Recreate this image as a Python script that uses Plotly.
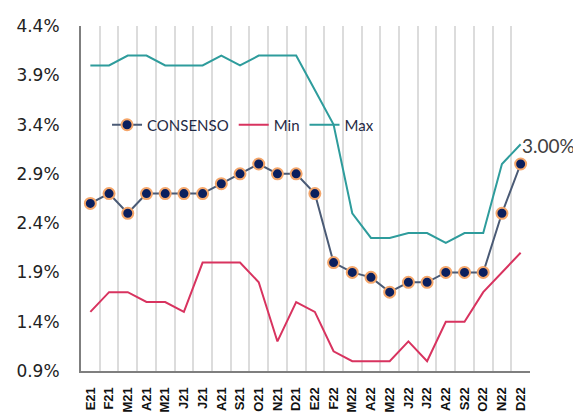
import plotly.graph_objects as go

categories = ["E21","F21","M21","A21","M21","J21","J21","A21","S21","O21","N21","D21",
              "E22","F22","M22","A22","M22","J22","J22","A22","S22","O22","N22","D22"]
consenso = [2.6,2.7,2.5,2.7,2.7,2.7,2.7,2.8,2.9,3.0,2.9,2.9,
            2.7,2.0,1.9,1.85,1.7,1.8,1.8,1.9,1.9,1.9,2.5,3.0]
minimo = [1.5,1.7,1.7,1.6,1.6,1.5,2.0,2.0,2.0,1.8,1.2,1.6,
          1.5,1.1,1.0,1.0,1.0,1.2,1.0,1.4,1.4,1.7,1.9,2.1]
maximo = [4.0,4.0,4.1,4.1,4.0,4.0,4.0,4.1,4.0,4.1,4.1,4.1,
          3.75,3.4,2.5,2.25,2.25,2.3,2.3,2.2,2.3,2.3,3.0,3.2]
yticks = [0.9,1.4,1.9,2.4,2.9,3.4,3.9,4.4]

x = list(range(len(categories)))

fig = go.Figure()
fig.add_trace(go.Scatter(x=x, y=consenso, name="CONSENSO", mode="lines+markers",
                         line=dict(color="#4A5A75", width=2),
                         marker=dict(color="#0B1F5E", size=11,
                                     line=dict(color="#F5A66A", width=2))))
fig.add_trace(go.Scatter(x=x, y=minimo, name="Min", mode="lines",
                         line=dict(color="#D8335F", width=2)))
fig.add_trace(go.Scatter(x=x, y=maximo, name="Max", mode="lines",
                         line=dict(color="#2E9C9C", width=2)))

fig.add_annotation(x=x[-1], y=consenso[-1], text=f"{consenso[-1]:.2f}%",
                   showarrow=False, xanchor="left", yanchor="bottom",
                   xshift=-1, yshift=5,
                   font=dict(family="Lato", size=19, color="#404040"))

fig.update_layout(
    width=581, height=416,
    margin=dict(l=73, r=59, t=18, b=53),
    paper_bgcolor="white", plot_bgcolor="white",
    showlegend=True,
    legend=dict(orientation="h", x=0.058, y=0.713, xanchor="left", yanchor="middle",
                bgcolor="rgba(0,0,0,0)", font=dict(family="Lato", size=15, color="#1F2A44"),
                itemwidth=30, tracegroupgap=0),
    font=dict(family="Liberation Sans", color="#222222"),
)
fig.update_xaxes(range=[-0.5, len(categories) - 0.5], tickmode="array", tickvals=x,
                 ticktext=[f"<b>{c}</b>" for c in categories], tickangle=-90, showgrid=False,
                 tickfont=dict(family="Liberation Sans", size=13, color="#111111"),
                 showline=True, linecolor="#7F7F7F", linewidth=2, ticks="",
                 ticklabelstandoff=9, automargin=False,
                 minor=dict(tick0=0.5, dtick=1, showgrid=True, gridcolor="#DCDCDC", gridwidth=2),
                 zeroline=False)
fig.update_yaxes(range=[0.9, 4.4], tickmode="array", tickvals=yticks,
                 ticktext=[f"{v:.1f}%" for v in yticks], showgrid=False,
                 tickfont=dict(family="DejaVu Sans", size=17, color="#222222"),
                 showline=True, linecolor="#7F7F7F", linewidth=2, ticks="",
                 ticklabelstandoff=16, automargin=False, zeroline=False)

fig.write_html("out.html")
